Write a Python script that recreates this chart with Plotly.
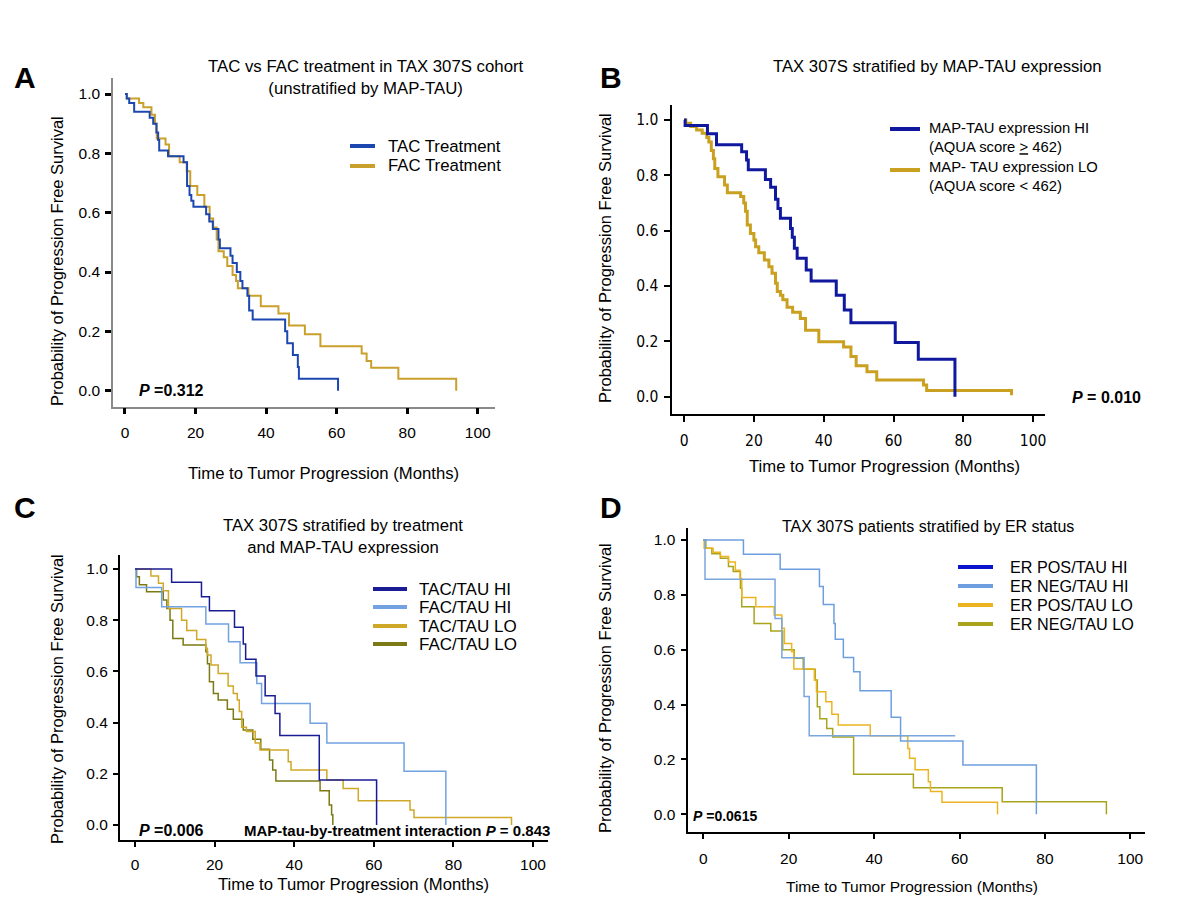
import plotly.graph_objects as go

W, H = 1200, 900


def px(x):
    return x / W


def py(y):
    return 1 - y / H


FONT = "Liberation Sans, Arial, sans-serif"
NARROW = "Liberation Sans Narrow, Arial Narrow, DejaVu Sans Condensed, Liberation Sans, sans-serif"

# ---------------- DATA ----------------
# Panel A: TAC vs FAC
a_tac_t = [0, 0.5, 1.2, 2.6, 7.0, 8.0, 8.9, 9.4, 9.7, 12.2, 16.6, 17.6, 18.3, 18.8, 19.4, 23.0, 23.9, 24.9,
           26.5, 26.9, 29.9, 30.5, 31.7, 32.7, 33.3, 34.7, 35.2, 36.2, 45.4, 46.0, 47.6, 49.0, 49.3, 60.4]
a_tac_s = [1.0, 0.985, 0.97, 0.94, 0.92, 0.90, 0.87, 0.845, 0.81, 0.79, 0.77, 0.69, 0.66, 0.64, 0.62, 0.595,
           0.57, 0.545, 0.51, 0.48, 0.455, 0.43, 0.40, 0.37, 0.345, 0.32, 0.27, 0.24, 0.20, 0.16, 0.12, 0.08,
           0.04, 0.0]
a_fac_t = [0, 0.5, 4.0, 5.2, 7.5, 8.5, 9.0, 11.5, 12.5, 15.5, 17.5, 18.5, 20.5, 22.5, 24.0, 25.0, 26.0, 26.5,
           28.0, 29.0, 30.5, 31.5, 32.0, 35.0, 38.5, 43.5, 46.5, 51.0, 55.4, 67.1, 68.5, 69.8, 77.5, 93.9]
a_fac_s = [1.0, 0.985, 0.97, 0.955, 0.93, 0.90, 0.85, 0.83, 0.79, 0.77, 0.74, 0.69, 0.66, 0.62, 0.58, 0.55,
           0.51, 0.47, 0.45, 0.42, 0.39, 0.37, 0.345, 0.32, 0.285, 0.26, 0.22, 0.19, 0.15, 0.125, 0.10, 0.077,
           0.04, 0.0]
a_names = ["TAC Treatment", "FAC Treatment"]
a_colors = ["#1c47b0", "#c9a02c"]

# Panel B: MAP-TAU HI vs LO
b_hi_t = [0, 0.3, 6.7, 9.3, 16.5, 17.9, 18.4, 23.3, 24.8, 26.2, 26.9, 27.6, 30.5, 31.0, 31.6, 32.4, 35.0,
          36.4, 43.6, 45.9, 47.8, 60.5, 67.1, 77.6]
b_hi_s = [1.0, 0.98, 0.95, 0.91, 0.885, 0.855, 0.82, 0.785, 0.757, 0.713, 0.68, 0.645, 0.608, 0.576, 0.536,
          0.50, 0.458, 0.418, 0.367, 0.313, 0.267, 0.196, 0.135, 0.0]
b_lo_t = [0, 0.5, 1.9, 3.6, 5.2, 6.5, 7.1, 7.8, 8.4, 8.8, 9.7, 11.6, 12.4, 16.2, 17.1, 17.6, 18.1, 19.0, 20.0,
          20.5, 21.4, 23.0, 24.3, 25.2, 26.2, 26.7, 27.6, 28.3, 29.5, 31.1, 33.3, 34.8, 38.6, 45.7, 47.8, 49.3,
          52.4, 55.2, 68.6, 69.5, 93.8]
b_lo_s = [1.0, 0.988, 0.976, 0.964, 0.952, 0.937, 0.92, 0.89, 0.86, 0.825, 0.795, 0.765, 0.737, 0.723, 0.70,
          0.67, 0.62, 0.59, 0.566, 0.542, 0.52, 0.494, 0.47, 0.446, 0.41, 0.38, 0.367, 0.35, 0.323, 0.305,
          0.283, 0.24, 0.199, 0.18, 0.145, 0.112, 0.09, 0.06, 0.042, 0.022, 0.005]
b_names = ["MAP-TAU expression HI<br>(AQUA score <span style='text-decoration:underline'>&gt;</span> 462)",
           "MAP- TAU expression LO<br>(AQUA score &lt; 462)"]
b_colors = ["#10199e", "#c9a020"]

# Panel C: treatment x MAP-TAU
c_tachi_t = [0, 9.2, 16.7, 18.7, 25.0, 27.2, 27.8, 30.4, 32.7, 35.2, 36.4, 46.3, 60.7]
c_tachi_s = [1.0, 0.948, 0.892, 0.837, 0.772, 0.707, 0.647, 0.582, 0.505, 0.436, 0.35, 0.176, 0.0]
c_fachi_t = [0, 0.25, 6.7, 17.8, 23.5, 26.4, 30.6, 31.8, 44.0, 48.2, 67.6, 78.1]
c_fachi_s = [1.0, 0.928, 0.853, 0.785, 0.716, 0.634, 0.553, 0.475, 0.397, 0.32, 0.21, 0.0]
c_taclo_t = [0, 4.0, 5.9, 7.1, 8.4, 11.7, 13.0, 15.5, 17.8, 18.2, 19.1, 20.9, 23.4, 24.7, 25.7, 26.2, 26.8,
             28.0, 30.2, 31.4, 38.5, 39.2, 48.2, 52.3, 56.1, 69.1, 70.1, 94.6]
c_taclo_s = [1.0, 0.973, 0.944, 0.915, 0.846, 0.80, 0.76, 0.725, 0.69, 0.664, 0.625, 0.592, 0.543, 0.514,
             0.488, 0.443, 0.382, 0.365, 0.32, 0.293, 0.247, 0.215, 0.176, 0.143, 0.095, 0.059, 0.029, 0.0]
c_faclo_t = [0, 0.4, 1.1, 2.9, 7.1, 8.0, 8.8, 9.5, 12.1, 17.8, 18.2, 18.7, 19.7, 20.9, 23.2, 24.7, 27.2, 29.6,
             31.6, 33.8, 34.6, 35.4, 46.5, 48.8, 49.4, 49.7]
c_faclo_s = [1.0, 0.97, 0.938, 0.911, 0.879, 0.846, 0.80, 0.729, 0.703, 0.677, 0.63, 0.56, 0.514, 0.488,
             0.452, 0.413, 0.371, 0.335, 0.296, 0.254, 0.215, 0.172, 0.134, 0.078, 0.04, 0.0]
c_names = ["TAC/TAU HI", "FAC/TAU HI", "TAC/TAU LO", "FAC/TAU LO"]
c_colors = ["#1a1c94", "#72a2e2", "#d0a828", "#7c7a14"]

# Panel D: ER status x MAP-TAU
d_poshi_t = [0, 0.4, 16.8, 18.4, 23.6, 24.8, 59.0]
d_poshi_s = [1.0, 0.857, 0.714, 0.571, 0.429, 0.286, 0.286]
d_neghi_t = [0, 9.4, 18.0, 27.2, 28.1, 30.6, 30.9, 32.8, 35.2, 36.7, 44.0, 46.2, 60.8, 78.0]
d_neghi_s = [1.0, 0.948, 0.893, 0.83, 0.765, 0.696, 0.638, 0.572, 0.52, 0.45, 0.354, 0.267, 0.18, 0.0]
d_poslo_t = [0, 0.2, 2.3, 4.0, 5.9, 7.5, 8.6, 9.0, 12.3, 16.6, 18.4, 19.0, 20.7, 21.2, 26.0, 26.5, 28.7, 30.1,
             31.6, 39.1, 47.9, 48.3, 49.6, 52.7, 53.2, 55.9, 68.9]
d_poslo_s = [1.0, 0.97, 0.955, 0.94, 0.92, 0.89, 0.86, 0.79, 0.757, 0.727, 0.678, 0.623, 0.593, 0.53, 0.49,
             0.447, 0.41, 0.365, 0.326, 0.286, 0.24, 0.204, 0.162, 0.119, 0.083, 0.044, 0.0]
d_neglo_t = [0, 0.6, 2.0, 4.0, 5.9, 7.0, 8.7, 9.0, 11.9, 15.8, 18.6, 21.3, 23.4, 26.2, 26.7, 27.3, 28.9, 30.3,
             35.2, 49.2, 70.0, 94.4]
d_neglo_s = [1.0, 0.97, 0.95, 0.933, 0.903, 0.885, 0.824, 0.757, 0.696, 0.668, 0.60, 0.569, 0.529, 0.49,
             0.392, 0.348, 0.313, 0.282, 0.146, 0.097, 0.046, 0.0]
d_names = ["ER POS/TAU HI", "ER NEG/TAU HI", "ER POS/TAU LO", "ER NEG/TAU LO"]
d_legend_colors = ["#0a14cc", "#6e9ee0", "#ecb420", "#a8a41c"]
d_curve_colors = ["#7aa6de", "#6e9ee0", "#ecb420", "#a8a41c"]

x_ticks = [0, 20, 40, 60, 80, 100]
y_ticks = [0.0, 0.2, 0.4, 0.6, 0.8, 1.0]
y_ticktext = ["0.0", "0.2", "0.4", "0.6", "0.8", "1.0"]

titles = {
    "A": "TAC vs FAC treatment in TAX 307S cohort<br>(unstratified by MAP-TAU)",
    "B": "TAX 307S stratified by MAP-TAU expression",
    "C": "TAX 307S stratified by treatment<br>and MAP-TAU expression",
    "D": "TAX 307S patients stratified by ER status",
}
x_title = "Time to Tumor Progression (Months)"
y_title = "Probability of Progression Free Survival"

# ---------------- FIGURE ----------------
fig = go.Figure()


def add_curve(t, s, color, width, xa, ya):
    fig.add_trace(go.Scatter(x=t, y=s, mode="lines", line=dict(color=color, width=width, shape="hv"),
                             xaxis=xa, yaxis=ya, showlegend=False, hoverinfo="skip"))


# A
add_curve(a_fac_t, a_fac_s, a_colors[1], 2, "x", "y")
add_curve(a_tac_t, a_tac_s, a_colors[0], 2, "x", "y")
# B
add_curve(b_lo_t, b_lo_s, b_colors[1], 3, "x2", "y2")
add_curve(b_hi_t, b_hi_s, b_colors[0], 3, "x2", "y2")
# C
add_curve(c_faclo_t, c_faclo_s, c_colors[3], 1.5, "x3", "y3")
add_curve(c_taclo_t, c_taclo_s, c_colors[2], 1.5, "x3", "y3")
add_curve(c_fachi_t, c_fachi_s, c_colors[1], 1.5, "x3", "y3")
add_curve(c_tachi_t, c_tachi_s, c_colors[0], 1.5, "x3", "y3")
# D
add_curve(d_neglo_t, d_neglo_s, d_curve_colors[3], 1.5, "x4", "y4")
add_curve(d_poslo_t, d_poslo_s, d_curve_colors[2], 1.5, "x4", "y4")
add_curve(d_poshi_t, d_poshi_s, d_curve_colors[0], 1.5, "x4", "y4")
add_curve(d_neghi_t, d_neghi_s, d_curve_colors[1], 1.5, "x4", "y4")


def xaxis(dom, rng, anchor, linecolor, linewidth, tickwidth, ticklen, family, standoff):
    return dict(domain=[px(dom[0]), px(dom[1])], range=rng, anchor=anchor, tickmode="array", tickvals=x_ticks,
                showline=True, linecolor=linecolor, linewidth=linewidth, ticks="outside", ticklen=ticklen,
                tickwidth=tickwidth, tickcolor="black", showgrid=False, zeroline=False,
                tickfont=dict(family=family, size=15.5, color="black"), ticklabelstandoff=standoff,
                fixedrange=True)


def yaxis(dom, rng, anchor, linecolor, linewidth, tickwidth, ticklen, family, standoff):
    return dict(domain=[py(dom[0]), py(dom[1])], range=rng, anchor=anchor, tickmode="array", tickvals=y_ticks,
                ticktext=y_ticktext, showline=True, linecolor=linecolor, linewidth=linewidth, ticks="outside",
                ticklen=ticklen, tickwidth=tickwidth, tickcolor="black", showgrid=False, zeroline=False,
                tickfont=dict(family=family, size=15.5, color="black"), ticklabelstandoff=standoff,
                fixedrange=True)


fig.update_layout(
    width=W, height=H, margin=dict(l=0, r=0, t=0, b=0), paper_bgcolor="white", plot_bgcolor="white",
    showlegend=False, font=dict(family=FONT, color="black"),
    xaxis=xaxis((113, 495), [-3.4, 104.9], "y", "#8a8a8a", 1.5, 3, 6, FONT, 5),
    yaxis=yaxis((406.7, 78), [-0.054, 1.054], "x", "#8a8a8a", 1.5, 3, 6, FONT, 2),
    xaxis2=xaxis((671.5, 1045), [-3.6, 103.4], "y2", "black", 2, 1.5, 6, NARROW, 5),
    yaxis2=yaxis((414, 105), [-0.0625, 1.054], "x2", "black", 2, 1.5, 6, NARROW, 2),
    xaxis3=xaxis((120, 548), [-3.77, 103.77], "y3", "black", 2, 1.5, 5, FONT, 4),
    yaxis3=yaxis((840, 555), [-0.0586, 1.0547], "x3", "black", 2, 1.5, 5, FONT, 2),
    xaxis4=xaxis((687.5, 1145), [-3.70, 103.44], "y4", "black", 2, 1.5, 5, FONT, 6),
    yaxis4=yaxis((832, 528), [-0.0645, 1.0437], "x4", "black", 2, 1.5, 5, FONT, 2),
)

ann = []
shapes = []


def text(x, y, s, size=15, anchor="center", bold=False, angle=0, family=FONT):
    ann.append(dict(x=px(x), y=py(y), xref="paper", yref="paper", text=(f"<b>{s}</b>" if bold else s),
                    showarrow=False, xanchor=anchor, yanchor="middle", textangle=angle,
                    font=dict(family=family, size=size, color="black"), align="center"))


# panel letters
for letter, (lx, ly) in {"A": (12, 77), "B": (598, 77), "C": (12, 507), "D": (598, 507)}.items():
    text(lx, ly, letter, size=30, anchor="left", bold=True)

# titles
text(366, 77, titles["A"], size=16.8)
text(937, 67, titles["B"], size=16.7)
text(343, 536, titles["C"], size=16.7)
text(928, 526, titles["D"], size=16)

# axis titles
text(323, 473, x_title, size=16.7)
text(884, 466, x_title, size=16.7)
text(353, 884, x_title, size=16.7)
text(912, 886, x_title, size=15.5)
text(57, 261, y_title, size=16.5, angle=-90)
text(605, 258, y_title, size=16.5, angle=-90)
text(57, 699, y_title, size=16.5, angle=-90)
text(605, 688, y_title, size=16.5, angle=-90)

# p-values
text(137, 390, "<i>P</i> =0.312", size=16, anchor="left", bold=True)
text(1070, 397, "<i>P</i> = 0.010", size=16, anchor="left", bold=True)
text(137, 830, "<i>P</i> =0.006", size=16, anchor="left", bold=True)
text(242, 830, "MAP-tau-by-treatment interaction <i>P</i> = 0.843", size=15, anchor="left", bold=True)
text(691, 816, "<i>P</i> =0.0615", size=14, anchor="left", bold=True)


def legend(x0, x1, xt, ys, names, colors, size, lw=4):
    for yv, nm, col in zip(ys, names, colors):
        shapes.append(dict(type="line", xref="paper", yref="paper", x0=px(x0), x1=px(x1), y0=py(yv), y1=py(yv),
                           line=dict(color=col, width=lw)))
        text(xt, yv, nm, size=size, anchor="left")


legend(350, 375, 386, [146, 166], a_names, a_colors, 16.8)
# B legend: two-line names; line drawn at first line
for yline, ytext, nm, col in zip([129, 170], [137, 176], b_names, b_colors):
    shapes.append(dict(type="line", xref="paper", yref="paper", x0=px(890), x1=px(920), y0=py(yline),
                       y1=py(yline), line=dict(color=col, width=4)))
    ann.append(dict(x=px(927), y=py(ytext), xref="paper", yref="paper", text=nm, showarrow=False,
                    xanchor="left", yanchor="middle", align="left",
                    font=dict(family=FONT, size=14.8, color="black")))
legend(373, 407, 417, [589, 607, 626, 644], c_names, c_colors, 17)
legend(958, 993, 1008, [567, 586, 605, 624], d_names, d_legend_colors, 16.2)

fig.update_layout(annotations=ann, shapes=shapes)

fig.write_html("out.html", include_plotlyjs=True, config={"displayModeBar": False},
               post_script="document.body.style.margin='0';document.body.style.overflow='hidden';")
